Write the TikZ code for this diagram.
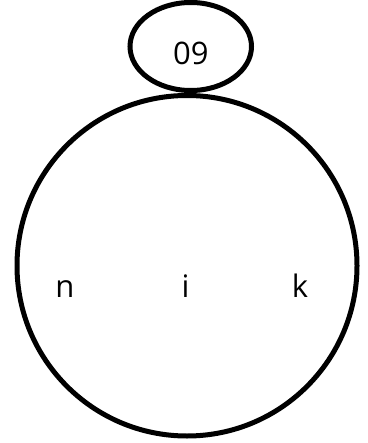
\documentclass[tikz,border=0pt]{standalone}
\usepackage{fontspec}
\setmainfont{Open Sans}
\usetikzlibrary{shapes.geometric, positioning}

\begin{document}
\begin{tikzpicture}[
    x=1pt, y=-1pt,
    bubble/.style={ellipse, draw=black, line width=5pt, inner sep=0pt},
    letter/.style={anchor=base, font=\fontsize{31}{36}\selectfont}
]
\useasboundingbox (0,0) rectangle (367,443);

\node (body) [bubble, minimum width=340pt, minimum height=340.5pt] at (187,265.75) {};
\node (head) [bubble, minimum width=121.5pt, minimum height=88pt, above=0pt of body, xshift=3.75pt] {};
\node (num) [letter, anchor=center, yshift=-7pt] at (head.center) {09};

\node (n) [letter] at (65,297) {n};
\node (i) [letter] at (185.5,297) {i};
\node (k) [letter] at (300,297) {k};

\end{tikzpicture}
\end{document}
